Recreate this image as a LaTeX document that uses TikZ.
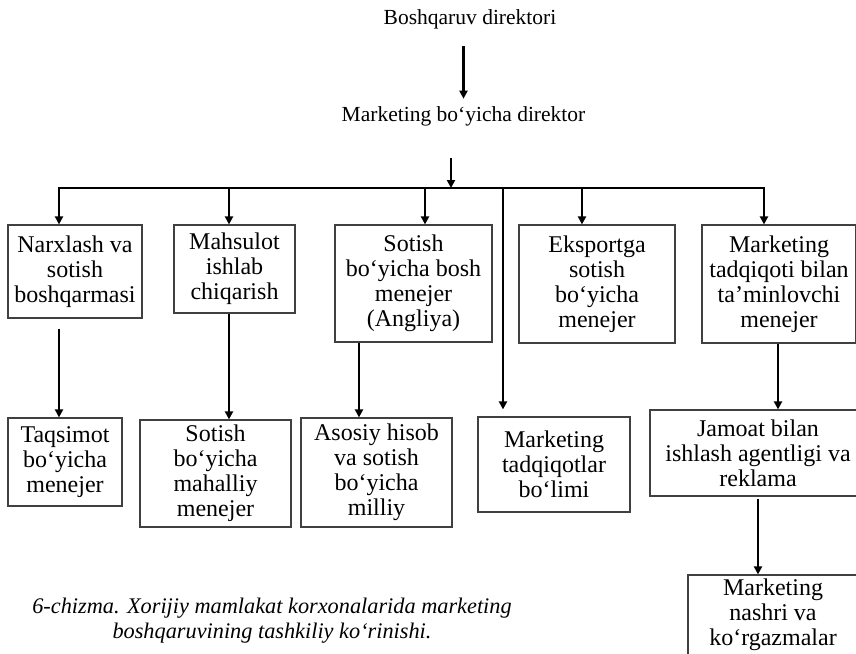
\documentclass[tikz,border=0pt]{standalone}
\usepackage{fontspec}
\setmainfont{Liberation Serif}
\newcommand{\boxcol}{black!75}
\newcommand{\boxfont}{\fontsize{24}{25}\selectfont}
\newcommand{\topfont}{\fontsize{21.5}{24}\selectfont}
\newcommand{\capfont}{\fontsize{22.3}{25}\selectfont\itshape}
\usepackage{tikz}
\usetikzlibrary{arrows.meta}

\begin{document}
\begin{tikzpicture}[x=1pt, y=-1pt,
    unit/.style={draw=\boxcol, line width=1.2pt, inner sep=0pt, align=center, font=\boxfont},
    link/.style={draw=black, line width=2.8pt, -{Triangle[width=8pt, length=8pt]}},
    bus/.style={draw=black, line width=2pt, line cap=rect}]

    \clip (0, 0) rectangle (856, 653);

    \node[font=\topfont] (boss) at (470, 19) {Boshqaruv direktori};
    \node[font=\topfont] (mdir) at (463.5, 116) {Marketing bo‘yicha direktor};

    \node[unit, minimum width=134, minimum height=93] (narx) at (75, 271.5) {Narxlash va\\ sotish\\ boshqarmasi};
    \node[unit, minimum width=121, minimum height=88] (mahs) at (234.5, 269) {Mahsulot\\ ishlab\\ chiqarish};
    \node[unit, minimum width=157, minimum height=117] (sotb) at (413.5, 283.5) {Sotish\\ bo‘yicha bosh\\ menejer\\ (Angliya)};
    \node[unit, minimum width=156, minimum height=118] (eksp) at (597, 284) {Eksportga\\ sotish\\ bo‘yicha\\ menejer};
    \node[unit, minimum width=154, minimum height=118] (tadm) at (779, 284) {Marketing\\ tadqiqoti bilan\\ ta’minlovchi\\ menejer};

    \node[unit, minimum width=114, minimum height=88] (taqs) at (65, 462) {Taqsimot\\ bo‘yicha\\ menejer};
    \node[unit, minimum width=151, minimum height=107] (sotm) at (215.5, 473.5) {Sotish\\ bo‘yicha\\ mahalliy\\ menejer};
    \node[unit, minimum width=151, minimum height=109] (asos) at (376.5, 472.5) {Asosiy hisob\\ va sotish\\ bo‘yicha\\ milliy};
    \node[unit, minimum width=152, minimum height=95] (tadb) at (554, 464.5) {Marketing\\ tadqiqotlar\\ bo‘limi};
    \node[unit, minimum width=216, minimum height=86] (jamo) at (758, 453) {Jamoat bilan\\ ishlash agentligi va\\ reklama};
    \node[unit, minimum width=170, minimum height=80] (nash) at (773, 615) {Marketing\\ nashri va\\ ko‘rgazmalar};

    \node[font=\capfont, align=center] (cap) at (272, 621) {6-chizma. Xorijiy mamlakat korxonalarida marketing\\ boshqaruvining tashkiliy ko‘rinishi.};

    \coordinate (b0) at (451, 188);
    \coordinate (b1) at (59, 188);
    \coordinate (b2) at (229, 188);
    \coordinate (b3) at (425, 188);
    \coordinate (b4) at (503, 188);
    \coordinate (b5) at (582, 188);
    \coordinate (b6) at (764, 188);
    \coordinate (c3) at ([xshift=-17.5pt]asos.north);

    \draw[link, shorten <=14pt, shorten >=4pt] (boss.south -| mdir.north) -- (mdir.north);
    \draw[link, shorten <=29pt] (mdir.south -| b0) -- (b0);

    \draw[bus] (b1) -- (b6);
    \draw[link] (b1) -- (b1 |- narx.north);
    \draw[link] (b2) -- (b2 |- mahs.north);
    \draw[link] (b3) -- (b3 |- sotb.north);
    \draw[link, shorten >=7pt] (b4) -- (b4 |- tadb.north);
    \draw[link] (b5) -- (b5 |- eksp.north);
    \draw[link] (b6) -- (b6 |- tadm.north);

    \draw[link, shorten <=10pt] (b1 |- narx.south) -- (b1 |- taqs.north);
    \draw[link] (b2 |- mahs.south) -- (b2 |- sotm.north);
    \draw[link] (c3 |- sotb.south) -- (c3);
    \draw[link] ([xshift=-1pt]tadm.south) -- ([xshift=-1pt]tadm.south |- jamo.north);
    \draw[link, shorten <=2pt] (jamo.south) -- (jamo.south |- nash.north);

\end{tikzpicture}
\end{document}
